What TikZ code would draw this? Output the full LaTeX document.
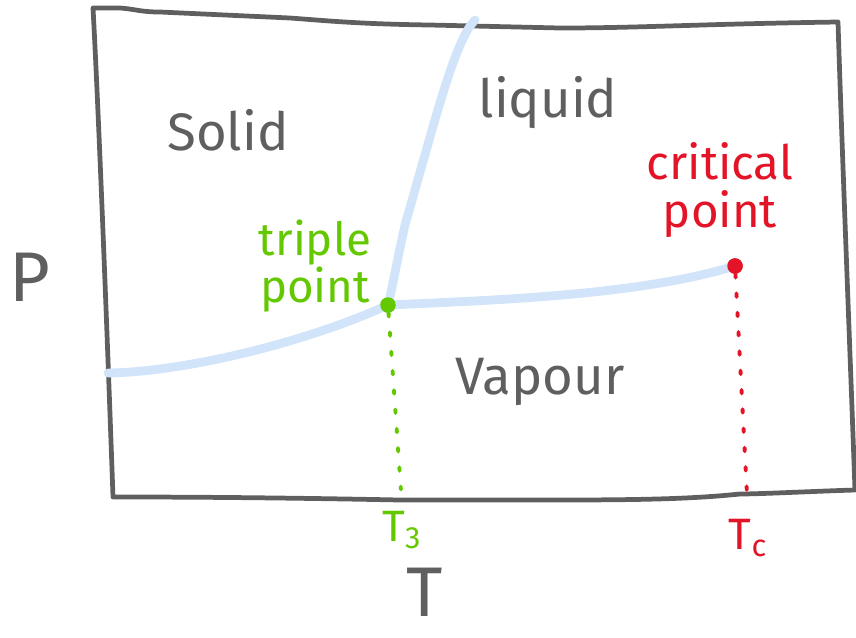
\documentclass[tikz,border=0pt]{standalone}
\usepackage{fontspec}
\setmainfont{Fira Sans}
\usetikzlibrary{positioning}
\definecolor{PenGrey}{RGB}{95,95,95}
\definecolor{LineBlue}{RGB}{210,228,250}
\definecolor{TripleGreen}{RGB}{100,200,0}
\definecolor{CritRed}{RGB}{228,20,40}
\tikzset{
  frame/.style={draw=PenGrey,line width=2.7pt,line join=round,line cap=round},
  boundary/.style={LineBlue,line width=5pt,line cap=round,line join=round},
  phase/.style={text=PenGrey,font=\fontsize{30}{30}\selectfont},
  axislabel/.style={text=PenGrey,inner sep=0pt,font=\fontsize{40}{40}\selectfont},
  tripletext/.style={text=TripleGreen,align=center,
    font=\fontsize{26}{25}\selectfont},
  crittext/.style={text=CritRed,align=center,
    font=\fontsize{27}{27}\selectfont},
  ticklabel/.style={font=\fontsize{25}{25}\selectfont},
  pointdot/.style={circle,inner sep=0pt,minimum size=0.31cm},
  dotline/.style={line width=2.2pt,line cap=round,dash pattern=on 2pt off 9pt}
}

\begin{document}
\begin{tikzpicture}[x=0.02cm,y=-0.02cm]
  \useasboundingbox (0,0) rectangle (856,637);
  % frame of the diagram
  \draw[frame] (93,8) -- (120,8) .. controls (135,9) and (140,12) .. (160,12)
    -- (290,18) .. controls (330,21) and (360,24) .. (430,25)
    -- (560,28) .. controls (640,28) and (700,24) .. (838,22)
    .. controls (842,150) and (850,350) .. (855,490)
    .. controls (820,491) and (760,494) .. (740,494)
    .. controls (700,498) and (660,500) .. (560,500)
    -- (400,500) .. controls (250,497) and (150,497) .. (113,497)
    .. controls (106,300) and (98,100) .. cycle;

  % triple and critical points
  \node[pointdot,fill=TripleGreen] (tp) at (388,305) {};
  \node[pointdot,fill=CritRed] (cp) at (735,266) {};
  \coordinate (sub) at (108,373);
  \coordinate (fus) at (475,20);

  % phase boundaries
  \draw[boundary] (sub) .. controls (180,372) and (300,345) .. (tp.center);
  \draw[boundary] (tp.center) .. controls (392,290) and (395,270) .. (405,225)
    -- (432,130) .. controls (445,85) and (460,35) .. (fus);
  \draw[boundary] (tp.center) .. controls (500,300) and (640,295) .. (cp.center);
  \node[pointdot,fill=TripleGreen] at (tp) {};
  \node[pointdot,fill=CritRed] at (cp) {};

  % phase names
  \node[phase] (solid) at (228,130) {Solid};
  \node[phase] (liquid) at (548,103) {liquid};
  \node[phase] (vapour) at (540,382) {Vapour};

  % point labels
  \node[tripletext] (tplabel) at (315,266) {triple\\point};
  \node[crittext] (cplabel) at (720,190) {critical\\point};

  % temperature marks
  \node[ticklabel,text=TripleGreen] (t3) at (402,530) {T\textsubscript{3}};
  \node[ticklabel,text=CritRed] (tc) at (748,538) {T\textsubscript{c}};
  \draw[dotline,TripleGreen,shorten >=9pt] (tp) -- (t3.north);
  \draw[dotline,CritRed,shorten >=7pt] (cp) -- (tc.north);

  % axis labels
  \node[axislabel] (plabel) at (30,277) {P};
  \node[axislabel] (tlabel) at (425,592) {T};
\end{tikzpicture}
\end{document}
